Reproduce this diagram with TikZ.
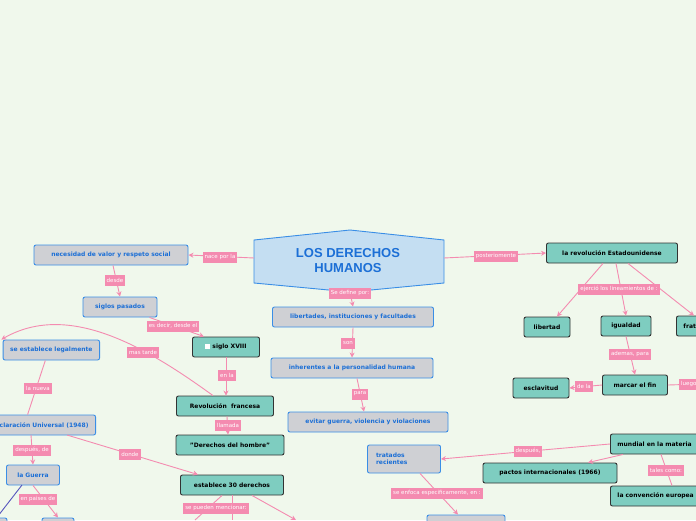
\documentclass[tikz,border=0pt]{standalone}
\usepackage{fontspec}
\setmainfont{DejaVu Sans}
\newfontfamily\titlefont{Liberation Sans}
\usetikzlibrary{arrows.meta}
\definecolor{bgcol}{HTML}{F0F8EC}
\definecolor{pinkc}{HTML}{F48BB0}
\definecolor{bluec}{HTML}{3A8EE6}
\definecolor{bluetxt}{HTML}{1C6FD6}
\definecolor{grayc}{HTML}{CFD0D4}
\definecolor{tealc}{HTML}{7ECDC0}
\definecolor{titlec}{HTML}{C4DEF2}
\begin{document}
\begin{tikzpicture}[
        x=1pt, y=-1pt,
        >={Stealth[length=5pt,width=5pt]},
        font=\fontsize{6}{7.5}\selectfont\bfseries,
        link/.style={draw=pinkc, line width=0.9pt},
        gbox/.style={rectangle, rounded corners=2pt, draw=bluec, line width=0.9pt, fill=grayc, text=bluetxt, minimum height=20pt, inner xsep=7pt},
        tbox/.style={rectangle, rounded corners=2pt, draw=black!80, line width=0.9pt, fill=tealc, text=black, minimum height=20pt, inner xsep=7pt},
        lbl/.style={rectangle, fill=pinkc, text=white, font=\fontsize{5.5}{7}\selectfont, inner sep=2pt, minimum height=11pt}
      ]

      \fill[bgcol] (0,0) rectangle (696,520);
      \clip (0,0) rectangle (696,520);

      % title
      \draw[bluec, fill=titlec, line width=0.9pt] (254,240) -- (350,230) -- (444,240) -- (444,283) -- (350,292) -- (254,283) -- cycle;
      \node[text=bluetxt, font=\titlefont\fontsize{13}{15}\selectfont\bfseries, align=center] (title) at (348,261) {LOS DERECHOS\\HUMANOS};
      \coordinate (tl) at (254,258);
      \coordinate (tr) at (444,258);
      \coordinate (tb) at (350,292);

      % gray nodes
      \node[gbox, minimum width=154pt] (nec) at (111,255) {necesidad de valor y respeto social};
      \node[gbox, minimum width=74pt] (sig) at (120,307) {siglos pasados};
      \node[gbox, anchor=east] (leg) at (100,350) {se establece legalmente};
      \node[gbox, anchor=east] (dec) at (96,425) {Declaración Universal (1948)};
      \node[gbox, minimum width=53pt] (gue) at (33,475) {la Guerra};
      \node[gbox, minimum width=32pt] (gb1) at (58,528) {};
      \node[gbox, minimum width=30pt] (gb2) at (-8,528) {};
      \node[gbox, minimum width=161pt] (lib) at (353,317) {libertades, instituciones y facultades};
      \node[gbox, minimum width=162pt] (inh) at (352,368) {inherentes a la personalidad humana};
      \node[gbox, minimum width=160pt] (evi) at (368,422) {evitar guerra, violencia y violaciones};
      \node[gbox, minimum width=73pt, minimum height=28pt, align=left, text width=56pt] (tra) at (404,459) {tratados\\recientes};
      \node[gbox, minimum width=78pt] (gb3) at (466,525) {};

      % teal nodes
      \node[tbox, minimum width=67pt] (xviii) at (226,347) {\textcolor{white}{\rule{5pt}{5pt}} siglo XVIII};
      \node[tbox, minimum width=97pt] (rev) at (225,406) {Revolución\ \ francesa};
      \node[tbox, minimum width=108pt] (der) at (230,445) {"Derechos del hombre"};
      \node[tbox, minimum width=103pt] (est) at (232,485) {establece 30 derechos};
      \node[tbox, minimum width=131pt] (usa) at (612,253) {la revolución Estadounidense};
      \node[tbox, minimum width=46pt] (libt) at (547,327) {libertad};
      \node[tbox, minimum width=50pt] (igu) at (626,326) {igualdad};
      \node[tbox, anchor=west] (fra) at (676,326) {fraternidad};
      \node[tbox, minimum width=65pt] (fin) at (635,385) {marcar el fin};
      \node[tbox, minimum width=56pt] (esc) at (541,388) {esclavitud};
      \node[tbox, anchor=west] (mun) at (610,444) {mundial en la materia};
      \node[tbox, minimum width=134pt] (pac) at (550,473) {pactos internacionales (1966)};
      \node[tbox, anchor=west] (con) at (610,496) {la convención europea};
      \coordinate (luego) at (700,384);
      \coordinate (upr) at (700,426);

      % connectors
      \draw[link, ->] (tl) -- (nec.east);
      \draw[link, ->] (nec.south) ++(2,0) -- (sig.north);
      \draw[link, ->] (sig.south east) ++(-8,0) -- ([xshift=-22pt]xviii.north);
      \draw[link, ->] ([xshift=-12pt]rev.north) .. controls (150,350) and (70,300) .. ([xshift=-50pt]leg.north);
      \draw[link, ->] (xviii.south) -- (xviii.south |- rev.north);
      \draw[link, ->] (rev.south) ++(2,0) -- ([xshift=-2pt]der.north);
      \draw[link] ([xshift=-6pt]leg.south) -- ([xshift=-12pt]dec.south |- dec.north);
      \draw[link, ->] (31,435) -- (gue.north);
      \draw[link, ->] (67,435) -- ([xshift=-34pt]est.north);
      \draw[link, ->] (gue.south) -- (gb1.north);
      \draw[bluec!60!violet, line width=0.9pt] (22,485) -- (-2,516);
      \draw[link] (est.south) -- (232,520);
      \draw[link] ([xshift=-10pt]est.south) -- (195,520);
      \draw[link, ->] ([xshift=20pt]est.south) -- (296,520);
      \draw[link, ->] (tb) -- (lib.north);
      \draw[link, ->] (lib.south) -- (inh.north);
      \draw[link, ->] ([xshift=5pt]inh.south) -- ([xshift=-4pt]evi.north);
      \draw[link, ->] (tr) -- (usa.west);
      \draw[link, ->] ([xshift=-9pt]usa.south) -- ([xshift=10pt]libt.north);
      \draw[link, ->] ([xshift=4pt]usa.south) -- (igu.north);
      \draw[link, ->] ([xshift=16pt]usa.south) -- ([xshift=18pt]fra.north west);
      \draw[link, ->] (igu.south) -- (fin.north);
      \draw[link, ->] (fin.west) -- (esc.east);
      \draw[link] (fin.east) -- (luego);
      \draw[link] (upr) -- ([xshift=88pt]mun.north west);
      \draw[link, ->] (mun.west) -- (tra.east);
      \draw[link, ->] ([xshift=13pt]mun.south west) -- ([xshift=38pt]pac.north);
      \draw[link] ([xshift=51pt]mun.south west) -- ([xshift=62pt]con.north west);
      \draw[link, ->] ([xshift=16pt]tra.south) -- ([xshift=-8pt]gb3.north);

      % labels
      \node[lbl] (l1) at (220,257) {nace por la};
      \node[lbl] (l2) at (115,280) {desde};
      \node[lbl] (l3) at (173,326) {es decir, desde el};
      \node[lbl] (l4) at (143,352) {mas tarde};
      \node[lbl] (l5) at (227,375) {en la};
      \node[lbl] (l6) at (228,425) {llamada};
      \node[lbl] (l7) at (38,388) {la nueva};
      \node[lbl] (l8) at (32,450) {después, de};
      \node[lbl] (l9) at (130,454) {donde};
      \node[lbl] (l10) at (38,499) {en paises de};
      \node[lbl] (l11) at (216,508) {se pueden mencionar:};
      \node[lbl] (l12) at (350,293) {Se define por:};
      \node[lbl] (l13) at (348,343) {son};
      \node[lbl] (l14) at (360,394) {para};
      \node[lbl] (l15) at (496,256) {posteriomente};
      \node[lbl] (l16) at (619,289) {ejerció los lineamientos de :};
      \node[lbl] (l17) at (630,354) {ademas, para};
      \node[lbl] (l18) at (584,386) {de la};
      \node[lbl, anchor=west] (l19) at (679,384) {luego};
      \node[lbl] (l20) at (528,451) {después,};
      \node[lbl] (l21) at (666,470) {tales como:};
      \node[lbl] (l22) at (437,493) {se enfoca especificamente, en :};

    \end{tikzpicture}
\end{document}
